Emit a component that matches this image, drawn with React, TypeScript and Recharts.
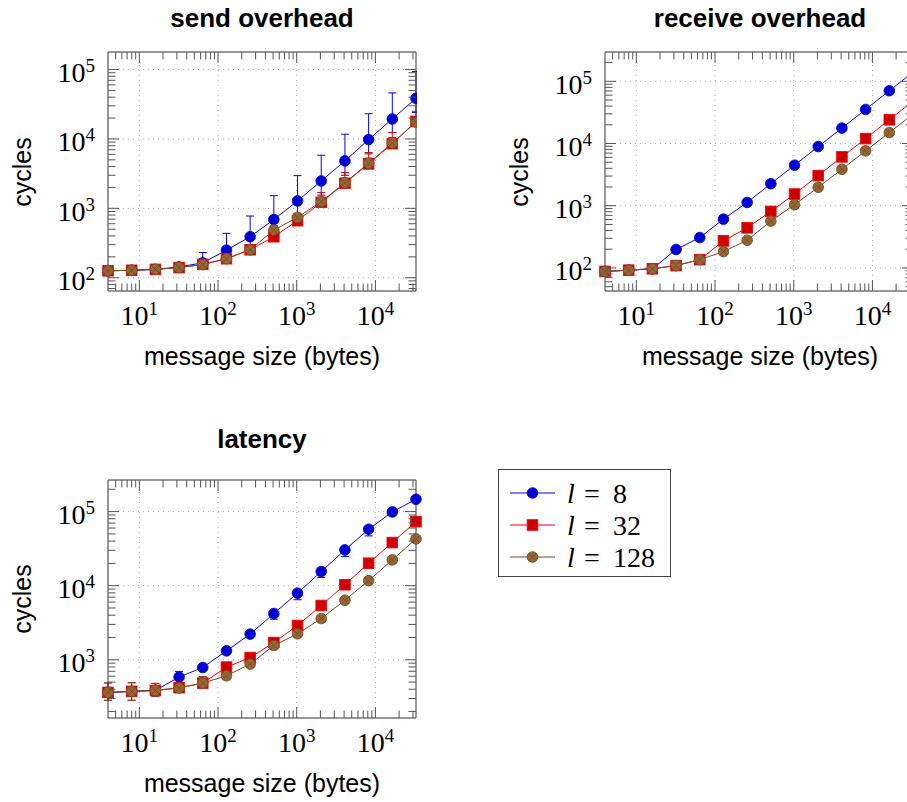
import React from 'react';
import { LineChart, Line, XAxis, YAxis, ErrorBar, ReferenceLine, Legend } from 'recharts';

// message size in bytes (x axis, log scale)
const sizes = [4, 8, 16, 32, 64, 128, 256, 512, 1024, 2048, 4096, 8192, 16384, 32768];
const xMajors = [10, 100, 1000, 10000];

// send overhead (cycles), value + lower/upper end of the error bar
const sendL8 = [126, 128, 132, 143, 164, 250, 390, 690, 1280, 2480, 4830, 9800, 19400, 38500];
const sendL8Lo = [124, 126, 130, 138, 155, 200, 290, 440, 800, 1550, 3000, 6100, 12400, 24000];
const sendL8Hi = [130, 132, 136, 155, 231, 436, 775, 1525, 2960, 5830, 11700, 23100, 46000, 93600];
const sendL32 = [126, 128, 132, 140, 156, 188, 253, 390, 664, 1220, 2300, 4370, 8540, 17900];
const sendL32Lo = [123, 125, 129, 135, 150, 178, 235, 350, 600, 1080, 2050, 3900, 7600, 15500];
const sendL32Hi = [129, 131, 135, 145, 163, 200, 300, 480, 850, 1690, 3280, 6380, 12400, 25000];
const sendL128 = [126, 128, 132, 140, 155, 188, 253, 486, 741, 1250, 2340, 4460, 8720, 17400];
const sendL128Lo = [124, 126, 130, 137, 150, 182, 240, 430, 690, 1150, 2150, 4100, 8000, 16000];
const sendL128Hi = [128, 130, 134, 143, 160, 195, 270, 560, 800, 1400, 2700, 5300, 10500, 21000];

// receive overhead (cycles)
const recvL8 = [88, 92, 97, 198, 308, 609, 1130, 2260, 4480, 8950, 17700, 35300, 70600, 140000];
const recvL32 = [88, 92, 97, 109, 136, 272, 441, 811, 1540, 3050, 6100, 12000, 24100, 48200];
const recvL128 = [88, 92, 97, 109, 136, 183, 279, 566, 1040, 1980, 3860, 7620, 15000, 29700];

// latency (cycles)
const latL8 = [363, 374, 386, 584, 788, 1320, 2220, 4210, 7930, 15500, 30400, 57800, 99000, 147000];
const latL8Lo = [350, 360, 372, 540, 740, 1250, 2100, 3530, 6460, 12900, 24700, 47000, 88300, 140000];
const latL8Hi = [380, 390, 400, 697, 830, 1390, 2330, 4400, 8300, 16200, 31500, 60000, 103000, 152000];
const latL32 = [363, 374, 386, 420, 484, 796, 1070, 1710, 2900, 5400, 10300, 20100, 38200, 73300];
const latL32Lo = [284, 284, 321, 395, 450, 760, 1030, 1640, 2800, 5200, 9900, 19400, 36900, 70800];
const latL32Hi = [487, 490, 480, 450, 590, 830, 1110, 1780, 3000, 5600, 10700, 20800, 39500, 75800];
const latL128 = [363, 374, 386, 415, 484, 608, 874, 1560, 2240, 3600, 6370, 11700, 22300, 42800];
const latL128Lo = [284, 284, 321, 390, 450, 580, 840, 1500, 2160, 3480, 6150, 11300, 21500, 41300];
const latL128Hi = [487, 490, 480, 445, 596, 640, 910, 1620, 2320, 3730, 6600, 12100, 23100, 44300];

const SERIF = '"Liberation Serif", "DejaVu Serif", serif';
const SANS = '"Liberation Sans", "DejaVu Sans", sans-serif';
const FRAME = '#333';

// pgfplots default "color" cycle list
const series = [
  { key: 'l8', label: '8', line: '#0000ff', fill: '#0000cc', mark: 'circle' },
  { key: 'l32', label: '32', line: '#ff0000', fill: '#cc0000', mark: 'square' },
  { key: 'l128', label: '128', line: '#734d26', fill: '#996633', mark: 'otimes' },
];

type Band = { v: number[]; lo?: number[]; hi?: number[] };

const buildRows = (bands: Record<string, Band>) =>
  sizes.map((size, i) => {
    const row: any = { size };
    Object.keys(bands).forEach((k) => {
      const b = bands[k];
      row[k] = b.v[i];
      if (b.lo && b.hi) row[k + 'Err'] = [b.v[i] - b.lo[i], b.hi[i] - b.v[i]];
    });
    return row;
  });

const sendRows = buildRows({
  l8: { v: sendL8, lo: sendL8Lo, hi: sendL8Hi },
  l32: { v: sendL32, lo: sendL32Lo, hi: sendL32Hi },
  l128: { v: sendL128, lo: sendL128Lo, hi: sendL128Hi },
});
const recvRows = buildRows({ l8: { v: recvL8 }, l32: { v: recvL32 }, l128: { v: recvL128 } });
const latRows = buildRows({
  l8: { v: latL8, lo: latL8Lo, hi: latL8Hi },
  l32: { v: latL32, lo: latL32Lo, hi: latL32Hi },
  l128: { v: latL128, lo: latL128Lo, hi: latL128Hi },
});

// major + minor ticks of a log axis, strictly inside the range
const logTicks = (min: number, max: number) => {
  const out: number[] = [];
  for (let e = Math.floor(Math.log10(min)); e <= Math.ceil(Math.log10(max)); e++) {
    for (let m = 1; m < 10; m++) {
      const t = m * 10 ** e;
      if (t > min * 1.001 && t < max * 0.999) out.push(t);
    }
  }
  return out;
};
const isMajor = (v: number) => Math.abs(Math.log10(v) - Math.round(Math.log10(v))) < 1e-9;

const AxisTick = (props: any) => {
  const { x, y, payload, side } = props;
  const v = payload.value;
  const major = isMajor(v);
  const len = major ? 11 : 7.5;
  const exp = Math.round(Math.log10(v));
  let l = [x, y, x, y];
  if (side === 'bottom') l = [x, y, x, y - len];
  if (side === 'top') l = [x, y, x, y + len];
  if (side === 'left') l = [x, y, x + len, y];
  if (side === 'right') l = [x, y, x - len, y];
  let label = null;
  if (major && side === 'bottom') {
    label = (
      <text x={x} y={y + 34} textAnchor="middle" fontFamily={SERIF} fontSize={28} fill="#000">
        10<tspan dy={-10} fontSize={19}>{exp}</tspan>
      </text>
    );
  }
  if (major && side === 'left') {
    label = (
      <text x={x - 13} y={y + 12.5} textAnchor="end" fontFamily={SERIF} fontSize={28} fill="#000">
        10<tspan dy={-10} fontSize={19}>{exp}</tspan>
      </text>
    );
  }
  return (
    <g>
      <line x1={l[0]} y1={l[1]} x2={l[2]} y2={l[3]} stroke="#555" strokeWidth={1} />
      {label}
    </g>
  );
};

const Mark = ({ kind, cx, cy, line, fill }: any) => {
  const r = 5.3;
  if (cx == null || cy == null) return null;
  if (kind === 'square')
    return <rect x={cx - r} y={cy - r} width={2 * r} height={2 * r} fill={fill} stroke={line} strokeWidth={0.9} />;
  if (kind === 'otimes') {
    const d = r * 0.707;
    return (
      <g>
        <circle cx={cx} cy={cy} r={r} fill={fill} stroke={line} strokeWidth={0.9} />
        <line x1={cx - d} y1={cy - d} x2={cx + d} y2={cy + d} stroke={line} strokeWidth={0.9} />
        <line x1={cx - d} y1={cy + d} x2={cx + d} y2={cy - d} stroke={line} strokeWidth={0.9} />
      </g>
    );
  }
  return <circle cx={cx} cy={cy} r={r} fill={fill} stroke={line} strokeWidth={0.9} />;
};

const renderLegend = (props: any) => {
  const keys = (props.payload || []).map((p: any) => p.dataKey);
  const shown = series.filter((s) => keys.length === 0 || keys.includes(s.key));
  return (
    <svg width={173} height={108} style={{ display: 'block' }}>
      <rect x={0.5} y={0.5} width={172} height={107} fill="#fff" stroke="#444" />
      {shown.map((s, i) => {
        const cy = 24 + i * 32;
        return (
          <g key={s.key}>
            <line x1={12} y1={cy} x2={57} y2={cy} stroke={s.line} strokeWidth={1} />
            <Mark kind={s.mark} cx={34.5} cy={cy} line={s.line} fill={s.fill} />
            <text y={cy + 10} fontFamily={SERIF} fontSize={28} fill="#000">
              <tspan x={69} fontStyle="italic">l</tspan>
              <tspan x={86}>=</tspan>
              <tspan x={115}>{s.label}</tspan>
            </text>
          </g>
        );
      })}
    </svg>
  );
};

const Y_W = 60;
const X_H = 44;

type PanelProps = {
  left: number;
  top: number;
  w: number;
  h: number;
  yDomain: [number, number];
  yMajors: number[];
  rows: any[];
  withErr: boolean;
  marginTop?: number;
  marginRight?: number;
  legend?: boolean;
};

const Panel = ({ left, top, w, h, yDomain, yMajors, rows, withErr, marginTop = 0, marginRight = 0, legend = false }: PanelProps) => {
  const xt = logTicks(4, 32768);
  const yt = logTicks(yDomain[0], yDomain[1]);
  return (
    <div style={{ position: 'absolute', left: left - Y_W, top: top - 1 - marginTop }}>
      <LineChart
        width={Y_W + w + 1 + marginRight}
        height={marginTop + 1 + h + X_H}
        data={rows}
        margin={{ top: marginTop, right: marginRight, bottom: 0, left: 0 }}
      >
        <XAxis xAxisId="b" dataKey="size" type="number" scale="log" domain={[4, 32768]}
          ticks={xt} interval={0} tickSize={0} tickMargin={0} height={X_H}
          axisLine={{ stroke: FRAME, strokeWidth: 1 }} tickLine={false}
          tick={(p: any) => <AxisTick {...p} side="bottom" />} />
        <XAxis xAxisId="t" orientation="top" dataKey="size" type="number" scale="log" domain={[4, 32768]}
          ticks={xt} interval={0} tickSize={0} tickMargin={0} height={1}
          axisLine={{ stroke: FRAME, strokeWidth: 1 }} tickLine={false}
          tick={(p: any) => <AxisTick {...p} side="top" />} />
        <YAxis yAxisId="l" type="number" scale="log" domain={yDomain}
          ticks={yt} interval={0} tickSize={0} tickMargin={0} width={Y_W}
          axisLine={{ stroke: FRAME, strokeWidth: 1 }} tickLine={false}
          tick={(p: any) => <AxisTick {...p} side="left" />} />
        <YAxis yAxisId="r" orientation="right" type="number" scale="log" domain={yDomain}
          ticks={yt} interval={0} tickSize={0} tickMargin={0} width={1}
          axisLine={{ stroke: FRAME, strokeWidth: 1 }} tickLine={false}
          tick={(p: any) => <AxisTick {...p} side="right" />} />
        {xMajors.map((v) => (
          <ReferenceLine key={'gx' + v} xAxisId="b" yAxisId="l" x={v} stroke="#b0b0b0" strokeDasharray="1 4" />
        ))}
        {yMajors.map((v) => (
          <ReferenceLine key={'gy' + v} xAxisId="b" yAxisId="l" y={v} stroke="#b0b0b0" strokeDasharray="1 4" />
        ))}
        {series.map((s) => (
          <Line
            key={s.key}
            xAxisId="b"
            yAxisId="l"
            dataKey={s.key}
            name={'l = ' + s.label}
            type="linear"
            stroke={s.line}
            strokeWidth={1}
            isAnimationActive={false}
            activeDot={false}
            dot={(p: any) => <Mark key={s.key + p.index} kind={s.mark} cx={p.cx} cy={p.cy} line={s.line} fill={s.fill} />}
          >
            {withErr && <ErrorBar dataKey={s.key + 'Err'} width={4} stroke={s.line} strokeWidth={1} direction="y" />}
          </Line>
        ))}
        {/* binds the mirrored top/right axes */}
        <Line xAxisId="t" yAxisId="r" dataKey="l8" stroke="none" dot={false} activeDot={false} legendType="none" isAnimationActive={false} />
        {legend && (
          <Legend layout="vertical" align="center" verticalAlign="middle" content={renderLegend}
            wrapperStyle={{ left: 450, top: 10, width: 173, height: 108 }} />
        )}
      </LineChart>
    </div>
  );
};

export default function App() {
  return (
    <div style={{ position: 'absolute', left: 0, top: 0, width: 907, height: 802, overflow: 'hidden', background: '#fff' }}>
      <svg width={907} height={802} style={{ position: 'absolute', left: 0, top: 0 }}>
        <g fontFamily={SANS} fill="#000">
          <text x={262} y={27} textAnchor="middle" fontWeight="bold" fontSize={26}>send overhead</text>
          <text x={760} y={27} textAnchor="middle" fontWeight="bold" fontSize={26}>receive overhead</text>
          <text x={262} y={448} textAnchor="middle" fontWeight="bold" fontSize={26}>latency</text>
          <text x={262} y={365} textAnchor="middle" fontSize={25}>message size (bytes)</text>
          <text x={760} y={365} textAnchor="middle" fontSize={25}>message size (bytes)</text>
          <text x={262} y={792} textAnchor="middle" fontSize={25}>message size (bytes)</text>
          <text transform="translate(31,172) rotate(-90)" textAnchor="middle" fontSize={25}>cycles</text>
          <text transform="translate(528,172) rotate(-90)" textAnchor="middle" fontSize={25}>cycles</text>
          <text transform="translate(31,599) rotate(-90)" textAnchor="middle" fontSize={25}>cycles</text>
        </g>
      </svg>
      <Panel left={108} top={52} w={308} h={239} yDomain={[64.4, 179000]} yMajors={[100, 1000, 10000, 100000]}
        rows={sendRows} withErr />
      <Panel left={605} top={52} w={308} h={239} yDomain={[42.6, 296000]} yMajors={[100, 1000, 10000, 100000]}
        rows={recvRows} withErr={false} />
      <Panel left={108} top={480} w={308} h={238} yDomain={[163.7, 267000]} yMajors={[1000, 10000, 100000]}
        rows={latRows} withErr marginTop={20} marginRight={262} legend />
    </div>
  );
}
